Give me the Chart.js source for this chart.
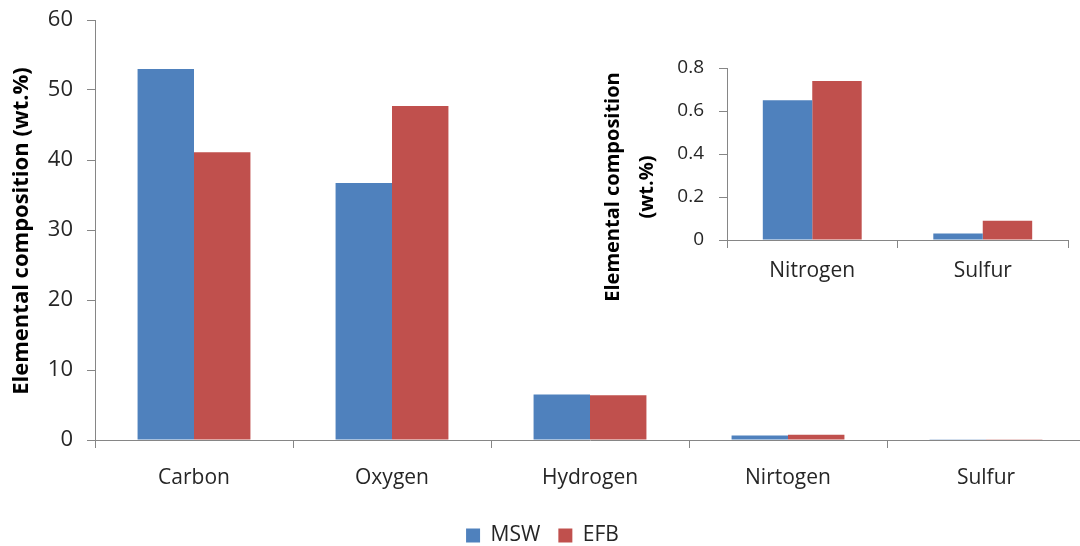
<!DOCTYPE html>
<html>
<head>
<meta charset="utf-8">
<script src="https://cdn.jsdelivr.net/npm/chart.js@4.4.1/dist/chart.umd.min.js"></script>
<style>
  html, body { margin: 0; padding: 0; background: #fff; overflow: hidden; }
  #wrap { position: relative; width: 1080px; height: 546px; overflow: hidden; }
  #main { position: absolute; left: 0; top: 0; }
  #inset { position: absolute; left: 595px; top: 40px; }
</style>
</head>
<body>
<div id="wrap">
  <canvas id="main" width="1090" height="556"></canvas>
  <canvas id="inset" width="490" height="270"></canvas>
</div>
<script>
// Elemental composition of MSW and EFB (wt.%)
const elements = ['Carbon', 'Oxygen', 'Hydrogen', 'Nirtogen', 'Sulfur'];
const mswValues = [53.0, 36.7, 6.5, 0.65, 0.03];
const efbValues = [41.1, 47.7, 6.4, 0.74, 0.09];
const yTicks = [0, 10, 20, 30, 40, 50, 60];

// Minor elements shown in the inset
const minorElements = ['Nitrogen', 'Sulfur'];
const mswMinor = [0.65, 0.03];
const efbMinor = [0.74, 0.09];
const minorTicks = [0, 0.2, 0.4, 0.6, 0.8];

const BLUE = '#4F81BD';
const RED = '#C0504D';
const AXIS = '#868686';
const TEXT = '#262626';
const FONT = '"Open Sans", Lato, sans-serif';

Chart.defaults.animation = false;
Chart.defaults.font.family = FONT;
Chart.defaults.color = TEXT;

// Rotated, bold axis title drawn beside the value axis
const sideTitle = {
  id: 'sideTitle',
  afterDraw(chart, args, opts) {
    if (!opts.lines) return;
    const ctx = chart.ctx;
    const area = chart.chartArea;
    ctx.save();
    ctx.font = `bold ${opts.size}px ${FONT}`;
    ctx.fillStyle = '#000';
    ctx.textAlign = 'center';
    ctx.textBaseline = 'middle';
    opts.lines.forEach((line, i) => {
      ctx.save();
      ctx.translate(opts.x + i * opts.lineGap, (area.top + area.bottom) / 2 + opts.dy);
      ctx.rotate(-Math.PI / 2);
      ctx.fillText(line, 0, 0);
      ctx.restore();
    });
    ctx.restore();
  }
};
Chart.register(sideTitle);

function axisGrid() {
  return { display: true, drawOnChartArea: false, drawTicks: true, tickLength: 8, color: AXIS, lineWidth: 1 };
}

// fixed-width value axis that does not push the plot area down
function fixedWidth(w) {
  return function (scale) {
    scale.width = w;
    scale.paddingTop = 0;
    scale.paddingBottom = 0;
  };
}

new Chart(document.getElementById('main'), {
  type: 'bar',
  data: {
    labels: elements,
    datasets: [
      { label: 'MSW', data: mswValues, backgroundColor: BLUE },
      { label: 'EFB', data: efbValues, backgroundColor: RED }
    ]
  },
  options: {
    responsive: false,
    devicePixelRatio: 1,
    layout: { padding: { top: 20, right: 5, bottom: 0, left: 0 } },
    datasets: { bar: { categoryPercentage: 0.57, barPercentage: 1.0 } },
    plugins: {
      tooltip: { enabled: false },
      sideTitle: { lines: ['Elemental composition (wt.%)'], size: 22, x: 22, dy: 1, lineGap: 0 },
      legend: {
        position: 'bottom',
        labels: {
          boxWidth: 14, boxHeight: 14, padding: 18,
          font: { size: 21 }, color: TEXT
        }
      }
    },
    scales: {
      x: {
        offset: true,
        grid: Object.assign(axisGrid(), { offset: true }),
        border: { display: true, color: AXIS },
        ticks: { font: { size: 21 }, color: TEXT, padding: 17 },
        afterFit(scale) { scale.height = 67; }
      },
      y: {
        min: 0, max: 60,
        afterBuildTicks(scale) { scale.ticks = yTicks.map(v => ({ value: v })); },
        grid: axisGrid(),
        border: { display: true, color: AXIS },
        ticks: { font: { size: 22 }, color: TEXT, padding: 14 },
        afterFit: fixedWidth(95)
      }
    }
  }
});

new Chart(document.getElementById('inset'), {
  type: 'bar',
  data: {
    labels: minorElements,
    datasets: [
      { label: 'MSW', data: mswMinor, backgroundColor: BLUE },
      { label: 'EFB', data: efbMinor, backgroundColor: RED }
    ]
  },
  options: {
    responsive: false,
    devicePixelRatio: 1,
    layout: { padding: { top: 28, right: 17, bottom: 0, left: 0 } },
    datasets: { bar: { categoryPercentage: 0.58, barPercentage: 1.0 } },
    plugins: {
      tooltip: { enabled: false },
      legend: { display: false },
      sideTitle: { lines: ['Elemental composition', '(wt.%)'], size: 20, x: 18, dy: 33, lineGap: 34 }
    },
    scales: {
      x: {
        offset: true,
        grid: Object.assign(axisGrid(), { offset: true }),
        border: { display: true, color: AXIS },
        ticks: { font: { size: 21 }, color: TEXT, padding: 10 },
        afterFit(scale) { scale.height = 70; }
      },
      y: {
        min: 0, max: 0.8,
        afterBuildTicks(scale) { scale.ticks = minorTicks.map(v => ({ value: v })); },
        grid: axisGrid(),
        border: { display: true, color: AXIS },
        ticks: { font: { size: 19 }, color: TEXT, padding: 15 },
        afterFit: fixedWidth(132)
      }
    }
  }
});
</script>
</body>
</html>
